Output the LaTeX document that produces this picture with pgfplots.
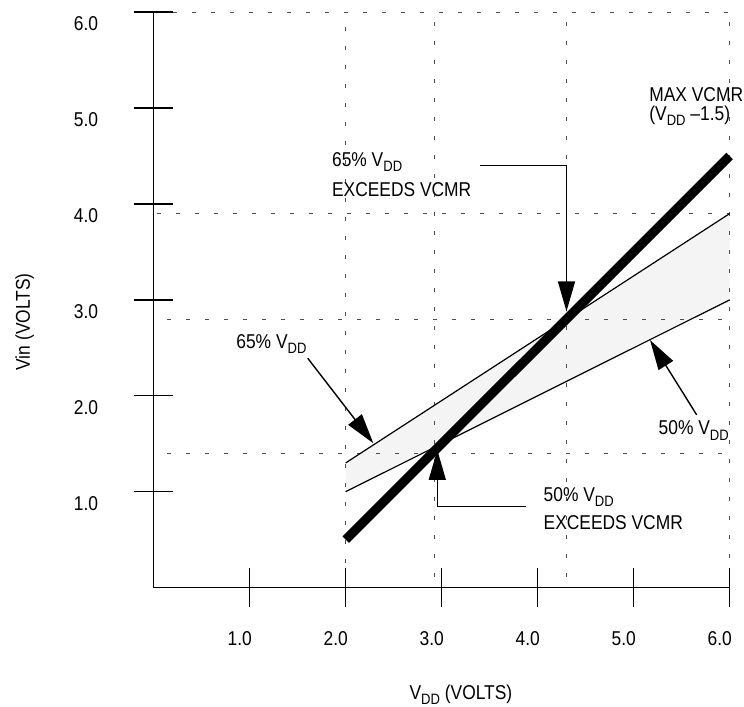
\documentclass[border=0pt]{standalone}
\usepackage{fontspec}
\setmainfont{Liberation Sans}[FakeStretch=0.87]
\usepackage{pgfplots}
\pgfplotsset{compat=1.18}
\usetikzlibrary{arrows.meta}
\newcommand{\DD}{\raisebox{-2.6pt}{\fontsize{7.5}{8}\selectfont DD}}
\definecolor{shade}{HTML}{F4F4F4}
\begin{document}
\begin{tikzpicture}
\begin{axis}[
  x=48pt, y=47.95pt,
  xmin=0, xmax=6, ymin=0, ymax=6,
  axis lines=left,
  axis line style={-, line width=0.7pt},
  clip=false,
  xtick={1,2,3,4,5,6}, ytick={1,2,3,4,5,6},
  xticklabels={1.0,2.0,3.0,4.0,5.0,6.0},
  yticklabels={1.0,2.0,3.0,4.0,5.0,6.0},
  tick align=center,
  major tick length=19.5pt,
  tick style={black, line width=0.7pt},
  xticklabel style={anchor=north, xshift=-5pt, yshift=-8.5pt},
  yticklabel style={anchor=east, xshift=-14.5pt, yshift=-5.8pt},
  every tick label/.append style={font=\fontsize{10}{12}\selectfont},
  xlabel={V\DD\ (VOLTS)},
  ylabel={Vin (VOLTS)},
  xlabel style={at={(axis cs:3.2,-1.162)}, anchor=base, inner sep=0pt},
  ylabel style={at={(axis cs:-1.289,2.77)}, anchor=base, inner sep=0pt},
]
% shaded band between 65% and 50% of VDD
\addplot[fill=shade, draw=none] coordinates {(2,1.3) (6,3.9) (6,3.0) (2,1.0)} -- cycle;
% dotted guide lines
\begin{scope}[black!70, line width=0.5pt, dash pattern=on 2pt off 7.5pt]
\draw (axis cs:0.2,6) -- (axis cs:6,6);
\draw (axis cs:0.03,3.9) -- (axis cs:6,3.9);
\draw (axis cs:0.14,2.8) -- (axis cs:6,2.8);
\draw (axis cs:0.14,1.4) -- (axis cs:6,1.4);
\draw (axis cs:2,5.85) -- (axis cs:2,0.2);
\draw (axis cs:2.92,5.9) -- (axis cs:2.92,0.1);
\draw (axis cs:4.3,5.9) -- (axis cs:4.3,0.1);
\draw (axis cs:6,5.9) -- (axis cs:6,0.2);
\end{scope}
% 65% and 50% of VDD
\addplot[black, line width=0.6pt] coordinates {(2,1.3) (6,3.9)};
\addplot[black, line width=0.6pt] coordinates {(2,1.0) (6,3.0)};
% MAX VCMR = VDD - 1.5
\addplot[black, line width=4.6pt] coordinates {(2,0.5) (6,4.5)};
% annotations
\begin{scope}[line width=0.7pt, -{Triangle[length=15pt,width=8.5pt]}]
\draw (axis cs:3.40,4.40) -- (axis cs:4.30,4.40) -- (axis cs:4.30,2.88);
\draw (axis cs:3.878,0.844) -- (axis cs:2.954,0.844) -- (axis cs:2.954,1.435);
\draw (axis cs:1.605,2.391) -- (axis cs:2.288,1.505);
\draw (axis cs:5.656,1.801) -- (axis cs:5.170,2.581);
\end{scope}
\begin{scope}[every node/.style={anchor=base west, inner sep=0pt, font=\fontsize{10}{12}\selectfont}]
\node at (axis cs:0.857,2.498) {65\% V\DD};
\node at (axis cs:1.854,4.389) {65\% V\DD};
\node at (axis cs:1.854,4.076) {EXCEEDS VCMR};
\node at (axis cs:4.058,0.896) {50\% V\DD};
\node at (axis cs:4.058,0.610) {EXCEEDS VCMR};
\node at (axis cs:5.256,1.591) {50\% V\DD};
\node at (axis cs:5.159,5.064) {MAX VCMR};
\node at (axis cs:5.159,4.875) {(V\DD\ –1.5)};
\end{scope}
\coordinate (BL) at (axis cs:-1.601,-1.235);
\coordinate (TR) at (axis cs:6.149,6.127);
\end{axis}
\pgfresetboundingbox
\path[use as bounding box] (BL) rectangle (TR);
\end{tikzpicture}
\end{document}
